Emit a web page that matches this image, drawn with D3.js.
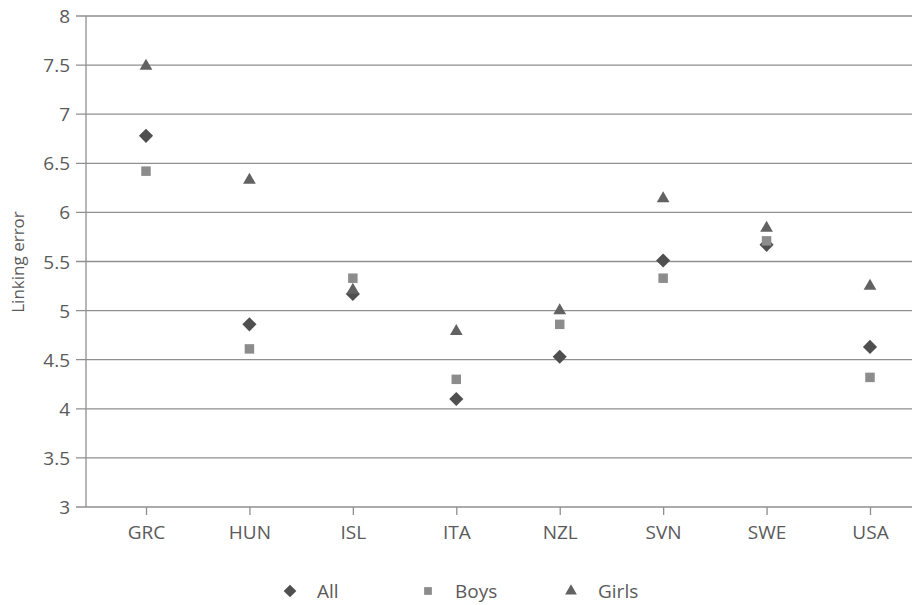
<!DOCTYPE html>
<html>
<head>
  <meta charset="utf-8">
  <title>Linking error by country</title>
  <style>
    body { margin: 0; background: white; font-family: "Open Sans", sans-serif; }
    text { fill: #5a5a5a; }
  </style>
  <script src="https://d3js.org/d3.v7.min.js"></script>
</head>
<body>
  <svg id="chart" width="912" height="605"></svg>
  <script>
    const countries = ["GRC", "HUN", "ISL", "ITA", "NZL", "SVN", "SWE", "USA"];
    const allValues = [6.78, 4.86, 5.17, 4.10, 4.53, 5.51, 5.67, 4.63];
    const boysValues = [6.42, 4.61, 5.33, 4.30, 4.86, 5.33, 5.71, 4.32];
    const girlsValues = [7.49, 6.33, 5.21, 4.79, 5.00, 6.14, 5.84, 5.25];
    const yTicks = [3, 3.5, 4, 4.5, 5, 5.5, 6, 6.5, 7, 7.5, 8];

    const svg = d3.select("#chart");
    const plot = { left: 86, right: 912, top: 16, bottom: 507 };

    const x = d3.scalePoint().domain(countries).range([146, 870]);
    const y = d3.scaleLinear().domain([3, 8]).range([plot.bottom, plot.top]);

    // gridlines
    svg.append("g")
      .selectAll("line")
      .data(yTicks)
      .enter().append("line")
      .attr("x1", plot.left - 10).attr("x2", plot.right)
      .attr("y1", d => y(d)).attr("y2", d => y(d))
      .attr("stroke", "#8f8f8f").attr("stroke-width", 1.3);

    // y axis line
    svg.append("line")
      .attr("x1", plot.left).attr("x2", plot.left)
      .attr("y1", plot.top).attr("y2", plot.bottom)
      .attr("stroke", "#8f8f8f").attr("stroke-width", 1.3);

    // y tick labels
    svg.append("g")
      .selectAll("text")
      .data(yTicks)
      .enter().append("text")
      .attr("x", 70).attr("y", d => y(d) + 7)
      .attr("text-anchor", "end")
      .style("font-size", "19px")
      .text(d => d);

    // x axis ticks + labels
    const xAxis = svg.append("g")
      .attr("transform", `translate(0,${plot.bottom})`)
      .call(d3.axisBottom(x).tickSize(8).tickPadding(11));
    xAxis.select(".domain").remove();
    xAxis.selectAll(".tick line").attr("stroke", "#8f8f8f").attr("stroke-width", 1.3);
    xAxis.selectAll(".tick text")
      .style("font-size", "19px")
      .style("font-family", "'Open Sans', sans-serif")
      .attr("fill", "#5a5a5a");

    // y axis title
    svg.append("text")
      .attr("transform", "rotate(-90)")
      .attr("x", -262).attr("y", 24)
      .attr("text-anchor", "middle")
      .style("font-size", "17px")
      .text("Linking error");

    // diamonds are squares turned 45 degrees
    const series = [
      { name: "All", values: allValues, type: d3.symbolSquare, rotate: 45, size: 100, legendSize: 80, color: "#4f4f4f" },
      { name: "Boys", values: boysValues, type: d3.symbolSquare, rotate: 0, size: 90, legendSize: 60, color: "#8c8c8c" },
      { name: "Girls", values: girlsValues, type: d3.symbolTriangle, rotate: 0, size: 70, legendSize: 60, color: "#626262" }
    ];

    series.forEach(s => {
      svg.append("g")
        .selectAll("path")
        .data(countries)
        .enter().append("path")
        .attr("d", d3.symbol().type(s.type).size(s.size))
        .attr("transform", (c, i) => `translate(${x(c)},${y(s.values[i])}) rotate(${s.rotate})`)
        .attr("fill", s.color);
    });

    // legend
    const legendX = [290, 428, 571];
    const legend = svg.append("g")
      .selectAll("g")
      .data(series)
      .enter().append("g")
      .attr("transform", (d, i) => `translate(${legendX[i]},591)`);
    legend.append("path")
      .attr("d", d => d3.symbol().type(d.type).size(d.legendSize)())
      .attr("transform", d => `rotate(${d.rotate})`)
      .attr("fill", d => d.color);
    legend.append("text")
      .attr("x", 27).attr("y", 7)
      .style("font-size", "19px")
      .text(d => d.name);
  </script>
</body>
</html>
